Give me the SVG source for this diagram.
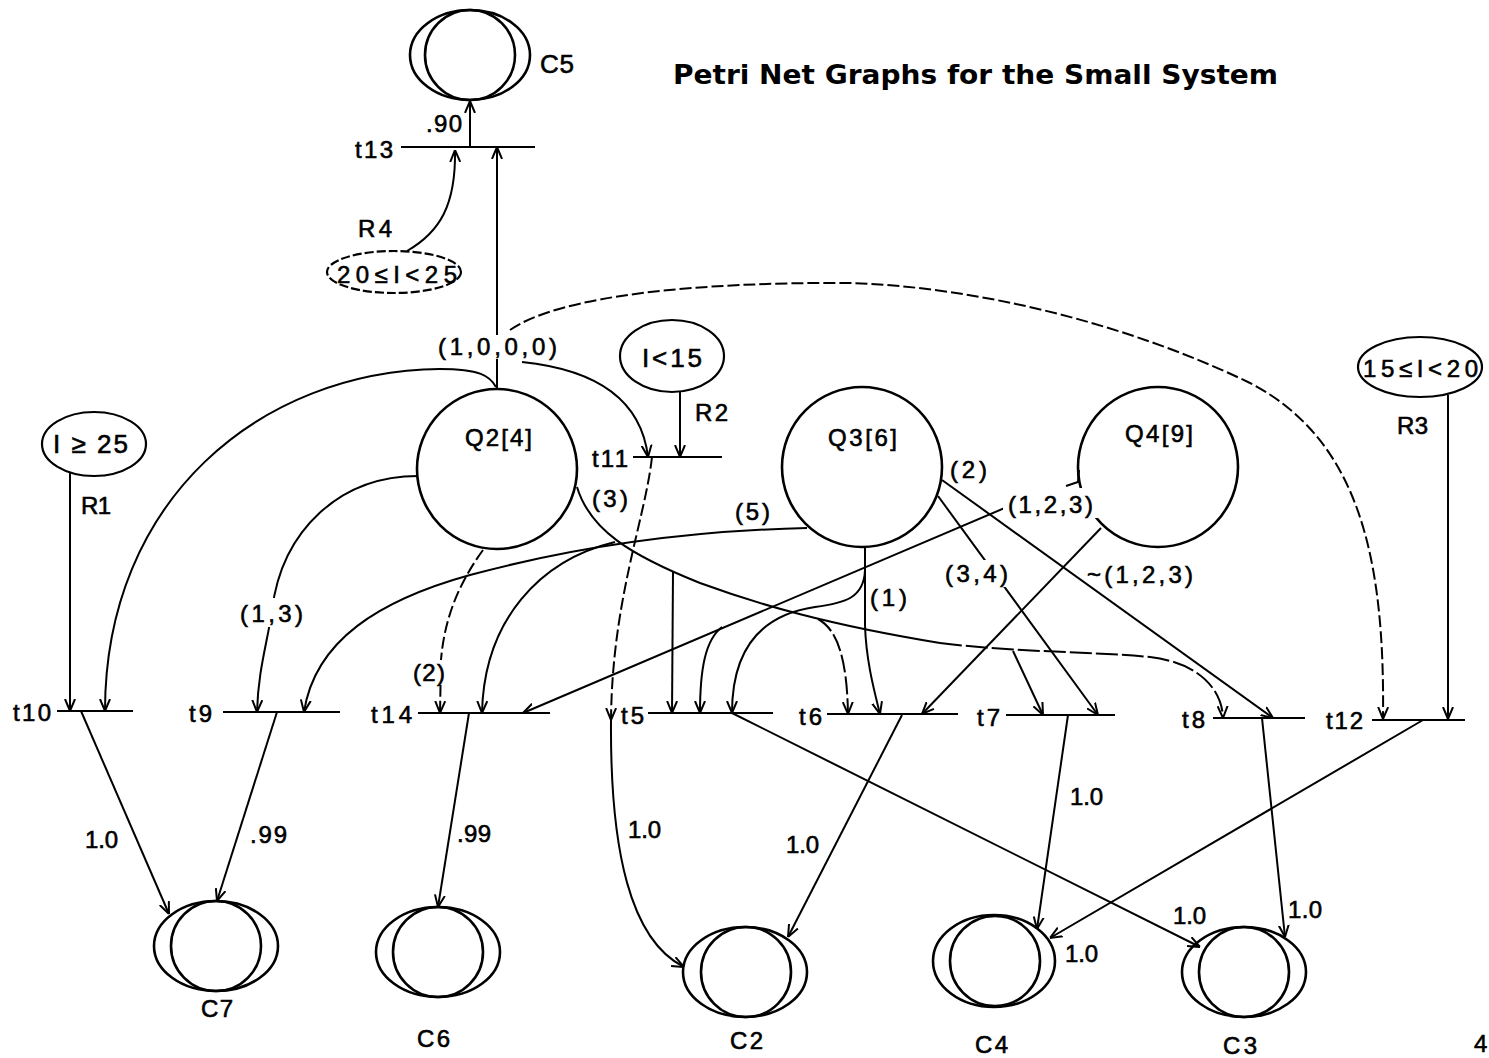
<svg xmlns="http://www.w3.org/2000/svg" width="1489" height="1058" viewBox="0 0 1489 1058">
<style>
.ln{fill:none;stroke:#000;stroke-width:2}
.ar{marker-end:url(#a)}
.ds{stroke-dasharray:12 4}
.bar{stroke:#000;stroke-width:2.2}
.pl{fill:none;stroke:#000;stroke-width:2.6}
.rule{fill:#fff;stroke:#000;stroke-width:2.2}
.coin{fill:none;stroke:#000;stroke-width:2.6}
.t{font-family:"Liberation Sans",Arial,sans-serif;font-size:24px;fill:#000;stroke:#000;stroke-width:0.6}
.ttl{font-family:"DejaVu Sans","Liberation Sans",sans-serif;font-size:27px;font-weight:bold;fill:#000}
.bg{fill:#fff}
</style>
<defs>
<marker id="a" viewBox="0 0 12 12" refX="12" refY="6" markerWidth="12" markerHeight="12" markerUnits="userSpaceOnUse" orient="auto">
<path d="M0,1 L12,6 L0,11" fill="none" stroke="#000" stroke-width="2"/>
</marker>
</defs>
<rect width="1489" height="1058" fill="#fff"/>
<text class="ttl" x="673" y="84" textLength="605" lengthAdjust="spacingAndGlyphs">Petri Net Graphs for the Small System</text>

<g id="connectors">
<path class="ln ar" d="M497,388 L497,147"/>
<path class="ln ar" d="M407,251 C440,232 456,205 455,150"/>
<path class="ln ar" d="M470,147 L470,101"/>
<path class="ln ar" d="M70,472 L70,711"/>
<path class="ln ar" d="M496,387 C490,376 480,369 440,369 C260,371 105,500 105,711"/>
<path class="ln ar" d="M522,362 C580,368 640,390 648,457"/>
<path class="ln ar ds" d="M510,330 C560,295 700,282 850,283 C980,287 1130,325 1250,383 C1360,440 1385,560 1383,719"/>
<path class="ln ar" d="M680,392 L680,457"/>
<path class="ln ar" d="M1448,395 L1448,719"/>
<path class="ln ar" d="M418,476 C340,476 282,530 272,610 C268,640 258,670 257,712"/>
<path class="ln ar ds" d="M483,550 C465,575 445,610 441,660 L440,713"/>
<path class="ln ar" d="M807,528 C720,530 600,540 470,575 C380,600 315,640 304,712"/>
<path class="ln ar" d="M615,542 C540,560 484,620 482,713"/>
<path class="ln" d="M577,487 C590,530 630,555 700,583 C760,605 830,625 940,643"/>
<path class="ln ar" d="M940,643 C1010,652 1100,652 1150,657 C1200,663 1222,690 1223,718" style="stroke-dasharray:22 4"/>
<path class="ln ar" d="M673,572 L672,713"/>
<path class="ln ar" d="M818,619 C838,630 847,660 848,714" style="stroke-dasharray:18 4"/>
<path class="ln ar" d="M1013,651 L1043,715"/>
<path class="ln ar" d="M865,547 L865,625 C866,660 874,690 880,714"/>
<path class="ln ar" d="M865,570 C864,598 845,603 815,607 C760,615 732,650 732,713"/>
<path class="ln ar" d="M942,480 L1273,718"/>
<path class="ln ar" d="M938,496 L1098,715"/>
<path class="ln ar" d="M1101,528 L922,714"/>
<path class="ln" d="M1079,470 L1078,482 L1066,486"/>
<path class="ln ar" d="M1007,507 L523,713"/>
<path class="ln ar" d="M722,627 C705,640 700,670 700,713"/>
<path class="ln ar" d="M81,711 L169,914"/>
<path class="ln ar" d="M277,712 L217,901"/>
<path class="ln ar" d="M469,713 L438,907"/>
<path class="ln ar ds" d="M652,457 C645,520 612,600 611,720"/>
<path class="ln ar" d="M611,720 C610,850 630,940 684,967"/>
<path class="ln ar" d="M902,715 L788,937"/>
<path class="ln ar" d="M732,713 L1200,947"/>
<path class="ln ar" d="M1068,715 L1037,929"/>
<path class="ln ar" d="M1423,720 L1050,938"/>
<path class="ln ar" d="M1262,718 L1285,937"/>
</g>

<g id="Q2"><circle class="pl" cx="497" cy="469" r="80"/><text class="t" x="465" y="446" textLength="67">Q2[4]</text></g>
<g id="Q3"><circle class="pl" cx="862" cy="467" r="80"/><text class="t" x="828" y="446" textLength="69">Q3[6]</text></g>
<g id="Q4"><circle class="pl" cx="1158" cy="467" r="80"/><text class="t" x="1125" y="442" textLength="68">Q4[9]</text></g>

<g id="R1"><ellipse class="rule" cx="94" cy="444" rx="52" ry="32"/><text class="t" x="53" y="453" textLength="75" style="font-size:26px">I ≥ 25</text><text class="t" x="81" y="514" textLength="30">R1</text></g>
<g id="R2"><ellipse class="rule" cx="672" cy="356" rx="52" ry="36"/><text class="t" x="642" y="367" textLength="60" style="font-size:26px">I&lt;15</text><text class="t" x="695" y="421" textLength="33">R2</text></g>
<g id="R3"><ellipse class="rule" cx="1420" cy="367" rx="62" ry="30"/><text class="t" x="1363" y="377" textLength="115" style="font-size:24px">15≤I&lt;20</text><text class="t" x="1397" y="434" textLength="31">R3</text></g>
<g id="R4"><ellipse class="rule" cx="394" cy="272" rx="67" ry="21" style="stroke-dasharray:9 3"/><text class="t" x="337" y="283" textLength="120" style="font-size:24px">20≤I&lt;25</text><text class="t" x="358" y="237" textLength="34">R4</text></g>

<g id="t13"><line class="bar" x1="401" y1="147" x2="535" y2="147"/><text class="t" x="355" y="158" textLength="38">t13</text></g>
<g id="t10"><line class="bar" x1="57" y1="711" x2="133" y2="711"/><text class="t" x="13" y="721" textLength="38">t10</text></g>
<g id="t9"><line class="bar" x1="223" y1="712" x2="340" y2="712"/><text class="t" x="189" y="722" textLength="23">t9</text></g>
<g id="t14"><line class="bar" x1="418" y1="713" x2="550" y2="713"/><text class="t" x="371" y="723" textLength="41">t14</text></g>
<g id="t11"><line class="bar" x1="633" y1="457" x2="722" y2="457"/><text class="t" x="592" y="467" textLength="36">t11</text></g>
<g id="t5"><line class="bar" x1="648" y1="713" x2="773" y2="713"/><text class="t" x="621" y="724" textLength="23">t5</text></g>
<g id="t6"><line class="bar" x1="827" y1="714" x2="958" y2="714"/><text class="t" x="799" y="725" textLength="23">t6</text></g>
<g id="t7"><line class="bar" x1="1006" y1="715" x2="1115" y2="715"/><text class="t" x="977" y="726" textLength="23">t7</text></g>
<g id="t8"><line class="bar" x1="1213" y1="718" x2="1305" y2="718"/><text class="t" x="1182" y="728" textLength="23">t8</text></g>
<g id="t12"><line class="bar" x1="1372" y1="720" x2="1465" y2="720"/><text class="t" x="1326" y="729" textLength="37">t12</text></g>

<g id="C5"><ellipse class="coin" cx="470" cy="55" rx="60" ry="45"/><circle class="coin" cx="470" cy="55" r="45"/><text class="t" x="540" y="73" textLength="34" style="font-size:26px">C5</text></g>
<g id="C7"><ellipse class="coin" cx="216" cy="946" rx="62" ry="45"/><circle class="coin" cx="216" cy="946" r="45"/><text class="t" x="201" y="1017" textLength="32">C7</text></g>
<g id="C6"><ellipse class="coin" cx="438" cy="952" rx="62" ry="45"/><circle class="coin" cx="438" cy="952" r="45"/><text class="t" x="417" y="1047" textLength="33">C6</text></g>
<g id="C2"><ellipse class="coin" cx="745" cy="972" rx="62" ry="45"/><circle class="coin" cx="746" cy="972" r="45"/><text class="t" x="730" y="1049" textLength="33">C2</text></g>
<g id="C4"><ellipse class="coin" cx="994" cy="961" rx="61" ry="46"/><circle class="coin" cx="995" cy="961" r="45"/><text class="t" x="975" y="1053" textLength="33">C4</text></g>
<g id="C3"><ellipse class="coin" cx="1244" cy="972" rx="62" ry="45"/><circle class="coin" cx="1244" cy="972" r="45"/><text class="t" x="1223" y="1054" textLength="34">C3</text></g>

<g id="arc-labels">
<rect class="bg" x="436" y="335" width="123" height="24"/>
<text class="t" x="438" y="355" textLength="119">(1,0,0,0)</text>
<rect class="bg" x="238" y="598" width="67" height="29"/>
<text class="t" x="240" y="622" textLength="63">(1,3)</text>
<rect class="bg" x="411" y="660" width="36" height="25"/>
<text class="t" x="413" y="681" textLength="32">(2)</text>
<rect class="bg" x="943" y="560" width="67" height="27"/>
<text class="t" x="945" y="582" textLength="63">(3,4)</text>
<rect class="bg" x="1003" y="488" width="95" height="30"/>
<text class="t" x="1008" y="513" textLength="85">(1,2,3)</text>
<text class="t" x="950" y="478" textLength="37">(2)</text>
<text class="t" x="592" y="507" textLength="36">(3)</text>
<text class="t" x="735" y="520" textLength="35">(5)</text>
<text class="t" x="1087" y="583" textLength="106">~(1,2,3)</text>
<text class="t" x="870" y="606" textLength="37">(1)</text>
<text class="t" x="426" y="132" textLength="36">.90</text>
<text class="t" x="85" y="848" textLength="33">1.0</text>
<text class="t" x="250" y="843" textLength="37">.99</text>
<text class="t" x="457" y="842" textLength="34">.99</text>
<text class="t" x="628" y="838" textLength="33">1.0</text>
<text class="t" x="786" y="853" textLength="33">1.0</text>
<text class="t" x="1070" y="805" textLength="33">1.0</text>
<text class="t" x="1065" y="962" textLength="33">1.0</text>
<text class="t" x="1173" y="924" textLength="33">1.0</text>
<text class="t" x="1288" y="918" textLength="34">1.0</text>
</g>
<text class="t" x="1474" y="1052">4</text>
</svg>
